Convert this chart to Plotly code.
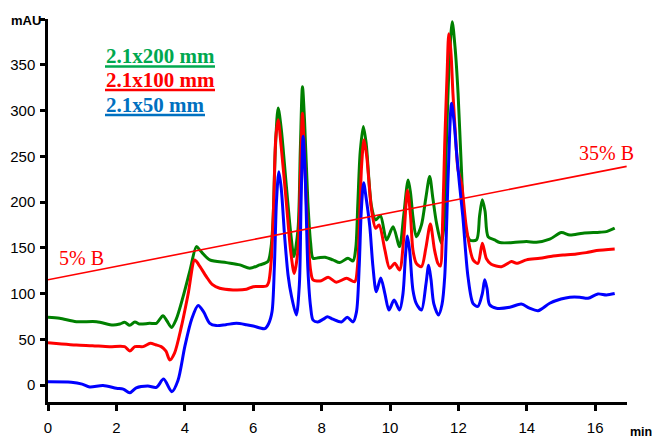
import plotly.graph_objects as go

# ---- data ----
blue_t = [0.0, 0.68, 1.0, 1.22, 1.61, 2.0, 2.2, 2.39, 2.58, 2.92, 3.17, 3.38, 3.62, 3.8, 4.0, 4.2, 4.39, 4.55,
          4.73, 4.92, 5.2, 5.51, 5.8, 6.0, 6.34, 6.45, 6.55, 6.62, 6.68, 6.75, 6.82, 6.92, 7.02, 7.12, 7.26,
          7.35, 7.40, 7.46, 7.52, 7.6, 7.68, 7.75, 7.89, 8.05, 8.17, 8.33, 8.58, 8.75, 8.92, 9.02, 9.1, 9.16,
          9.23, 9.3, 9.41, 9.5, 9.6, 9.73, 9.85, 9.97, 10.12, 10.28, 10.38, 10.45, 10.51, 10.58, 10.67, 10.77,
          10.92, 11.05, 11.13, 11.2, 11.28, 11.42, 11.52, 11.6, 11.7, 11.8, 11.88, 11.94, 12.03, 12.13, 12.28,
          12.43, 12.57, 12.7, 12.77, 12.84, 12.91, 13.11, 13.5, 13.84, 14.08, 14.33, 14.67, 15.0, 15.26,
          15.55, 15.79, 16.08, 16.33, 16.57]
blue_y = [3.5, 3, 1, -2, -0.5, -3.5, -4.5, -8.4, -3, -1, -2.5, 6.5, -7.3, 5, 42, 72, 87, 80,
          67.5, 65, 66, 67.5, 66, 64.5, 61.6, 67, 80, 130, 200, 233, 215, 162, 120, 97, 76.6,
          110, 200, 272, 230, 126, 85, 71, 69, 72, 74.7, 72, 69, 74, 69, 80, 130, 190,
          221, 205, 173, 130, 102, 117, 100, 82, 93, 82, 100, 140, 163, 145, 104, 89,
          82, 110, 131, 115, 89, 76.6, 88, 118.5, 228, 308, 285, 257, 220, 184, 118.5,
          89, 86, 100, 115, 105, 88, 84, 85, 88.6, 84, 81.3, 89.4, 94, 96,
          96, 94.8, 99.6, 98.5, 100]

red_t = [0.0, 0.4, 0.83, 1.3, 1.8, 2.24, 2.39, 2.54, 2.78, 2.99, 3.15, 3.31, 3.45, 3.56, 3.7, 3.9, 4.1,
         4.29, 4.4, 4.63, 4.8, 5.02, 5.41, 5.8, 6.0, 6.39, 6.45, 6.53, 6.6, 6.66, 6.73, 6.82, 6.97, 7.1,
         7.2, 7.31, 7.38, 7.44, 7.5, 7.6, 7.68, 7.75, 7.99, 8.19, 8.43, 8.73, 8.97, 9.05, 9.11, 9.17, 9.24,
         9.32, 9.46, 9.58, 9.68, 9.85, 9.99, 10.14, 10.28, 10.4, 10.51, 10.6, 10.67, 10.77, 10.92, 11.05,
         11.18, 11.3, 11.4, 11.47, 11.54, 11.6, 11.67, 11.72, 11.78, 11.84, 11.92, 11.99, 12.09, 12.23,
         12.43, 12.57, 12.7, 12.82, 12.96, 13.26, 13.55, 13.7, 13.99, 14.38, 14.77, 15.06, 15.45, 15.74,
         16.04, 16.57]
red_y = [46.3, 45, 43.8, 43, 42, 42, 37.2, 42, 42, 45.6, 44, 42, 37, 27.4, 35, 63.8, 100,
         136.8, 132, 118.5, 110, 105.8, 104, 104.7, 107.5, 108.3, 112, 137, 200, 270, 290, 260, 199, 145,
         122, 148, 230, 297, 250, 162, 125, 115, 114, 117.8, 112.4, 116.7, 113, 130, 180.5, 240, 268,
         250, 191.5, 171.4, 175, 147.7, 127.7, 133, 125.8, 160, 213, 185, 147.7, 133, 129.4, 150,
         176, 148, 133, 130, 180, 264, 340, 384, 365, 319, 270, 235, 220.7, 173,
         136.8, 133, 155, 138, 132, 129.4, 135, 133, 136.8, 138.6, 141, 142, 143.3, 144.7,
         147, 148.8]

green_t = [0.0, 0.34, 0.83, 1.42, 1.9, 2.1, 2.24, 2.39, 2.54, 2.68, 2.97, 3.17, 3.36, 3.48, 3.61, 3.75,
           3.95, 4.15, 4.34, 4.45, 4.73, 5.22, 5.61, 5.9, 6.19, 6.43, 6.52, 6.58, 6.65, 6.73, 6.82, 6.97,
           7.1, 7.19, 7.31, 7.38, 7.44, 7.5, 7.6, 7.68, 7.75, 7.9, 8.1, 8.33, 8.53, 8.77, 8.92, 9.0, 9.06,
           9.13, 9.22, 9.3, 9.46, 9.58, 9.72, 9.9, 10.09, 10.28, 10.4, 10.53, 10.6, 10.67, 10.77, 10.92,
           11.05, 11.16, 11.25, 11.36, 11.5, 11.58, 11.65, 11.73, 11.82, 11.9, 11.99, 12.09, 12.18, 12.33,
           12.53, 12.62, 12.7, 12.78, 12.87, 13.06, 13.21, 13.6, 13.99, 14.28, 14.67, 15.01, 15.26, 15.64,
           16.13, 16.33, 16.57]
green_y = [74, 73, 69.3, 69.3, 65.6, 66.7, 68.6, 65.3, 69, 66.7, 67.5, 67.5, 75.8, 70, 63, 72,
           96.6, 125, 151.3, 147, 136.8, 133.8, 131.3, 127.7, 131.3, 135, 150, 180, 260, 302.7, 280, 217,
           165, 140.4, 170, 260, 326, 290, 199, 155, 138.6, 139, 139.7, 136.8, 133.8, 138.6, 135.7, 150, 199,
           255, 282.6, 265, 195, 180.5, 185, 158.6, 173, 151.3, 185, 224, 210, 184, 162, 175,
           205, 228, 205, 177, 155, 175, 264, 350, 397, 370, 319, 235, 177, 158.6,
           158.6, 185, 202.4, 190, 162, 158.6, 155.7, 155.7, 156.8, 156, 159.4, 166.6, 164, 166,
           167, 167.7, 171.4]

gradient_t = [0.0, 16.92]
gradient_y = [115, 239]

x_ticks = [0, 2, 4, 6, 8, 10, 12, 14, 16]
y_ticks = [0, 50, 100, 150, 200, 250, 300, 350, 400]
y_ticktext = ["0", "50", "100", "150", "200", "250", "300", "350", ""]

legend_labels = ["2.1x200 mm", "2.1x100 mm", "2.1x50 mm"]
legend_colors = ["#00a84f", "#ff0000", "#0070c0"]

# ---- layout geometry (pixels) ----
W, H = 655, 438
L, R, T, B = 48, 28, 19, 36
PW, PH = W - L - R, H - T - B


def px(x):
    return (x - L) / PW


def py(y):
    return 1 - (y - T) / PH


# ---- figure ----
fig = go.Figure()
for t, y, c in [(green_t, green_y, "#008000"), (red_t, red_y, "#ff0000"), (blue_t, blue_y, "#0000ff")]:
    fig.add_trace(go.Scatter(x=t, y=y, mode="lines", line=dict(color=c, width=3, shape="spline", smoothing=0.8),
                             hoverinfo="skip", showlegend=False))
fig.add_trace(go.Scatter(x=gradient_t, y=gradient_y, mode="lines", line=dict(color="#ff0000", width=1.6),
                         hoverinfo="skip", showlegend=False))

fig.update_layout(
    width=W, height=H,
    margin=dict(l=L, r=R, t=T, b=B),
    paper_bgcolor="white", plot_bgcolor="white",
    font=dict(family="Liberation Sans, Arial", size=15, color="black"),
    xaxis=dict(range=[0, 16.93], tickvals=x_ticks, showgrid=False, zeroline=False, automargin=False,
               showline=True, linecolor="black", linewidth=2.5, ticks="outside", ticklen=6,
               tickwidth=2.5, tickcolor="black", ticklabelstandoff=4),
    yaxis=dict(range=[-18.5, 400], tickvals=y_ticks, ticktext=y_ticktext, showgrid=False, automargin=False,
               zeroline=False, showline=True, linecolor="black", linewidth=2.5, ticks="outside",
               ticklen=5, tickwidth=2.5, tickcolor="black", ticklabelstandoff=2),
)

# legend-like coloured labels with thick underlines
label_y = [56, 80.5, 105]
under_y = [66.5, 90, 115]
under_x1 = [215, 215, 205]
for lab, col, yy, uy, ux in zip(legend_labels, legend_colors, label_y, under_y, under_x1):
    fig.add_annotation(text="<b>" + lab + "</b>", xref="paper", yref="paper",
                       x=px(104), y=py(yy), xanchor="left", yanchor="middle",
                       showarrow=False, font=dict(family="Liberation Serif, Times New Roman", size=21, color=col))
    fig.add_shape(type="line", xref="paper", yref="paper", x0=px(105), x1=px(ux), y0=py(uy), y1=py(uy),
                  line=dict(color=col, width=2.5))

fig.add_annotation(text="5% B", xref="paper", yref="paper", x=px(57), y=py(258),
                   xanchor="left", yanchor="middle", showarrow=False,
                   font=dict(family="Liberation Serif, Times New Roman", size=20, color="#ff0000"))
fig.add_annotation(text="35% B", xref="paper", yref="paper", x=px(577), y=py(153),
                   xanchor="left", yanchor="middle", showarrow=False,
                   font=dict(family="Liberation Serif, Times New Roman", size=20, color="#ff0000"))
fig.add_annotation(text="<b>mAU</b>", xref="paper", yref="paper", x=px(43), y=py(20),
                   xanchor="right", yanchor="middle", showarrow=False,
                   font=dict(family="Liberation Sans, Arial", size=13, color="black"))
fig.add_annotation(text="<b>min</b>", xref="paper", yref="paper", x=px(653), y=py(432),
                   xanchor="right", yanchor="middle", showarrow=False, borderpad=0,
                   font=dict(family="Liberation Sans, Arial", size=12.5, color="black"))

fig.write_html("out.html", config={"displayModeBar": False},
               post_script="document.body.style.margin='0';")
